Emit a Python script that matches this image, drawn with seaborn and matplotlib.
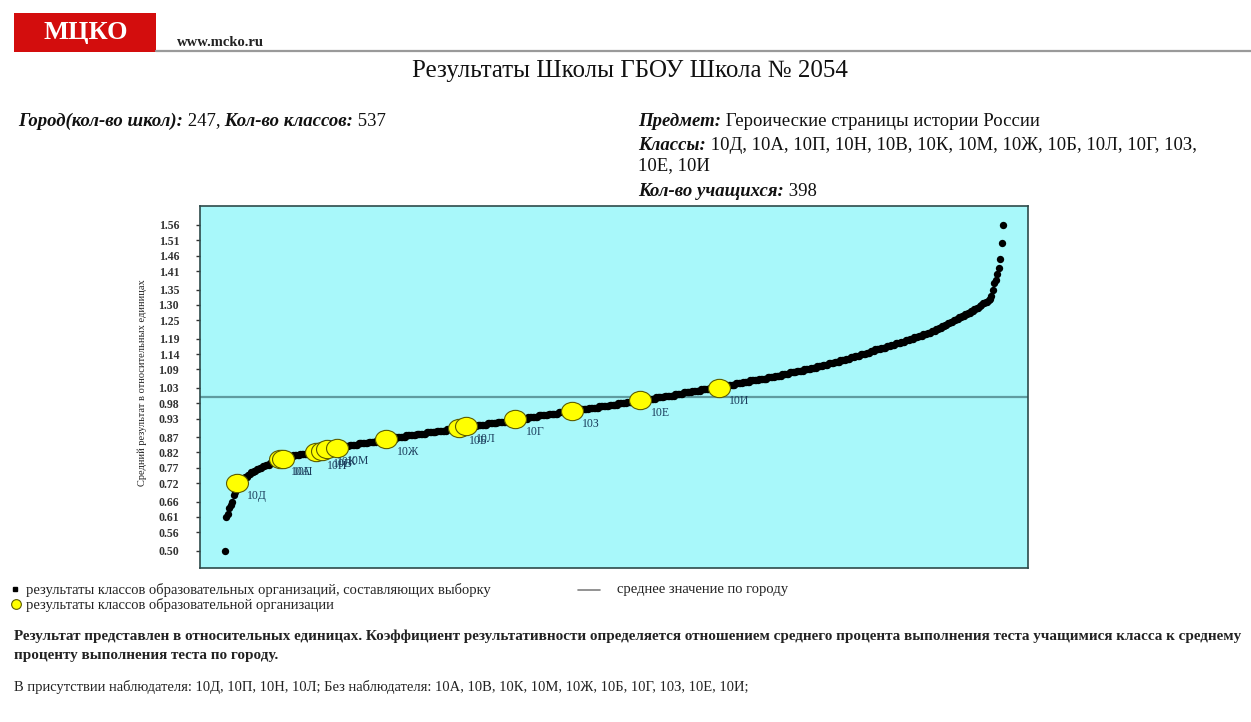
import numpy as np
import pandas as pd
import seaborn as sns
import matplotlib.pyplot as plt
from matplotlib.lines import Line2D
from matplotlib.patches import Rectangle
from matplotlib.path import Path
from matplotlib.transforms import Affine2D

# city sample: result level (relative units) and number of classes at that level
city_levels = [0.50, 0.61, 0.62, 0.64, 0.65, 0.66, 0.68, 0.69, 0.70, 0.71,
               0.720, 0.725, 0.730, 0.735, 0.740, 0.745, 0.750, 0.755, 0.760, 0.765,
               0.770, 0.775, 0.780, 0.785, 0.790, 0.795, 0.800, 0.805, 0.810, 0.815,
               0.820, 0.825, 0.830, 0.835, 0.840, 0.845, 0.850, 0.855, 0.860, 0.865,
               0.870, 0.875, 0.880, 0.885, 0.890, 0.895, 0.900, 0.905, 0.910, 0.915,
               0.920, 0.925, 0.930, 0.935, 0.940, 0.945, 0.950, 0.955, 0.960, 0.965,
               0.970, 0.975, 0.980, 0.985, 0.990, 0.995, 1.000, 1.005, 1.010, 1.015,
               1.020, 1.025, 1.030, 1.035, 1.040, 1.045, 1.050, 1.055, 1.060, 1.065,
               1.070, 1.075, 1.080, 1.085, 1.090, 1.095, 1.100, 1.105, 1.110, 1.115,
               1.120, 1.125, 1.130, 1.135, 1.140, 1.145, 1.150, 1.155, 1.160, 1.165,
               1.170, 1.175, 1.180, 1.185, 1.190, 1.195, 1.200, 1.205, 1.210, 1.215,
               1.220, 1.225, 1.230, 1.235, 1.240, 1.245, 1.250, 1.255, 1.260, 1.265,
               1.270, 1.275, 1.280, 1.285, 1.290, 1.295, 1.300, 1.305, 1.310, 1.315,
               1.32, 1.33, 1.35, 1.37, 1.38, 1.40, 1.42, 1.45, 1.50, 1.56]
city_counts = [1, 1, 1, 1, 1, 1, 1, 1, 1, 1,
               1, 1, 1, 1, 2, 1, 1, 2, 2, 2,
               2, 2, 3, 2, 3, 3, 4, 4, 5, 5,
               6, 5, 6, 6, 6, 6, 7, 6, 6, 7,
               7, 7, 7, 7, 7, 7, 7, 7, 7, 7,
               7, 7, 7, 7, 7, 7, 7, 7, 7, 7,
               7, 6, 6, 7, 7, 6, 6, 7, 6, 6,
               6, 6, 6, 6, 6, 5, 5, 6, 6, 5,
               5, 5, 5, 5, 5, 4, 4, 4, 4, 4,
               4, 3, 3, 4, 4, 3, 3, 4, 4, 3,
               3, 4, 3, 3, 3, 3, 3, 3, 3, 3,
               2, 2, 2, 2, 2, 2, 2, 2, 2, 2,
               2, 2, 2, 2, 2, 1, 1, 2, 2, 1,
               1, 1, 1, 1, 1, 1, 1, 1, 1, 1]
city_mean = 1.0

# classes of the school: name, place in the city ranking, result
school_classes = ["10Д", "10А", "10П", "10Н", "10В", "10К", "10М",
                  "10Ж", "10Б", "10Л", "10Г", "10З", "10Е", "10И"]
school_ranks = [9, 39, 41, 64, 68, 71, 78, 112, 162, 167, 201, 240, 287, 341]
school_values = [0.72, 0.80, 0.80, 0.82, 0.825, 0.83, 0.835,
                 0.865, 0.90, 0.905, 0.93, 0.955, 0.99, 1.03]

ytick_labels = ["0.50", "0.56", "0.61", "0.66", "0.72", "0.77", "0.82",
                "0.87", "0.93", "0.98", "1.03", "1.09", "1.14", "1.19",
                "1.25", "1.30", "1.35", "1.41", "1.46", "1.51", "1.56"]

city_values = np.repeat(city_levels, city_counts)
city = pd.DataFrame({"rank": np.arange(1, len(city_values) + 1), "value": city_values})
school = pd.DataFrame({"name": school_classes, "rank": school_ranks, "value": school_values})

sns.set_theme(style="white")
serif = ["Liberation Serif", "DejaVu Serif"]
plt.rcParams["font.family"] = serif

W, H = 1251, 722
fig = plt.figure(figsize=(W / 100, H / 100), dpi=100)


def fx(x):
    return x / W


def fy(y):
    return 1 - y / H


# header
fig.add_artist(Rectangle((fx(14), fy(52)), 142 / W, 39 / H, transform=fig.transFigure,
                         facecolor="#d30d0d", edgecolor="none"))
fig.text(fx(86), fy(33), "МЦКО", color="white", fontsize=19, fontweight="bold",
         ha="center", va="center")
fig.text(fx(177), fy(42), "www.mcko.ru", color="#222222", fontsize=10.5, fontweight="bold",
         ha="left", va="center")
fig.add_artist(Line2D([fx(156), fx(W)], [fy(51), fy(51)], transform=fig.transFigure,
                      color="#9a9a9a", lw=1.6))
fig.text(fx(630), fy(71), "Результаты Школы ГБОУ Школа № 2054", fontsize=18,
         ha="center", va="center", color="#111111")

renderer = fig.canvas.get_renderer()


def rich(x, y, parts, size):
    # label parts in bold italic, values in regular, drawn one after another
    for text, label in parts:
        t = fig.text(fx(x), fy(y), text, fontsize=size, va="center", ha="left",
                     color="#111111",
                     fontweight="bold" if label else "normal",
                     fontstyle="italic" if label else "normal")
        x += t.get_window_extent(renderer).width


head = 13.5
rich(18, 121, [("Город(кол-во школ):", True), (" 247,", False),
               (" Кол-во классов:", True), (" 537", False)], head)
rich(638, 121, [("Предмет:", True), (" Героические страницы истории России", False)], head)
rich(638, 146, [("Классы:", True),
                (" 10Д, 10А, 10П, 10Н, 10В, 10К, 10М, 10Ж, 10Б, 10Л, 10Г, 10З,", False)], head)
rich(638, 166, [("10Е, 10И", False)], head)
rich(638, 191, [("Кол-во учащихся:", True), (" 398", False)], head)

# chart
ax = fig.add_axes([fx(200), fy(568), 828 / W, 362 / H])
ax.set_facecolor("#a8f8fa")
ax.axhline(city_mean, color="#5f9ca0", lw=1.6, zorder=1)
sns.scatterplot(data=city, x="rank", y="value", color="black", s=28, linewidth=0,
                ax=ax, zorder=2, legend=False)
ellipse = Path.unit_circle().transformed(Affine2D().scale(1.2, 1.0))
sns.scatterplot(data=school, x="rank", y="value", color="#ffff00", marker=ellipse, s=250,
                edgecolor="#5c5c00", linewidth=0.8, ax=ax, zorder=3, legend=False)
for name, r, v in zip(school_classes, school_ranks, school_values):
    ax.annotate(name, (r, v), xytext=(7.5, -9.5), textcoords="offset points",
                fontsize=8.5, color="#1b3d5c", ha="left", va="center", zorder=4)

ax.set_xlim(-16.2, 554.2)
ax.set_ylim(0.4437, 1.6218)
ax.set_xticks([])
ax.set_yticks([float(t) for t in ytick_labels])
ax.set_yticklabels(ytick_labels)
ax.tick_params(axis="y", left=True, length=3, width=1, pad=12, labelsize=8.5,
               colors="#333333", labelcolor="#333333")
for lab in ax.get_yticklabels():
    lab.set_fontweight("bold")
for sp in ax.spines.values():
    sp.set_color("#2e4a4a")
    sp.set_linewidth(1.2)
ax.set_xlabel("")
ax.set_ylabel("")
fig.text(fx(142), fy(383), "Средний результат в относительных единицах", rotation=90,
         fontsize=7.5, ha="center", va="center", color="#222222")

# legend below the chart
fig.add_artist(Line2D([fx(15)], [fy(589)], marker="s", markersize=3.5, color="black",
                      transform=fig.transFigure))
fig.add_artist(Line2D([fx(16)], [fy(604)], marker="o", markersize=7, markerfacecolor="#ffff00",
                      markeredgecolor="#5c5c00", markeredgewidth=0.8, transform=fig.transFigure))
fig.add_artist(Line2D([fx(578), fx(600)], [fy(590), fy(590)], color="#808080", lw=1.2,
                      transform=fig.transFigure))
body = 10.5
fig.text(fx(26), fy(590), "результаты классов образовательных организаций, составляющих выборку",
         fontsize=body, va="center", color="#222222")
fig.text(fx(617), fy(590), "среднее значение по городу", fontsize=body, va="center",
         color="#222222")
fig.text(fx(26), fy(605), "результаты классов образовательной организации",
         fontsize=body, va="center", color="#222222")
fig.text(fx(14), fy(636), "Результат представлен в относительных единицах. Коэффициент "
         "результативности определяется отношением среднего процента выполнения теста "
         "учащимися класса к среднему", fontsize=10.9, fontweight="bold", va="center",
         color="#222222")
fig.text(fx(14), fy(656), "проценту выполнения теста по городу.", fontsize=10.9,
         fontweight="bold", va="center", color="#222222")
fig.text(fx(14), fy(687), "В присутствии наблюдателя: 10Д, 10П, 10Н, 10Л; Без наблюдателя: "
         "10А, 10В, 10К, 10М, 10Ж, 10Б, 10Г, 10З, 10Е, 10И;", fontsize=body,
         va="center", color="#222222")

fig.savefig("out.png", dpi=100)
